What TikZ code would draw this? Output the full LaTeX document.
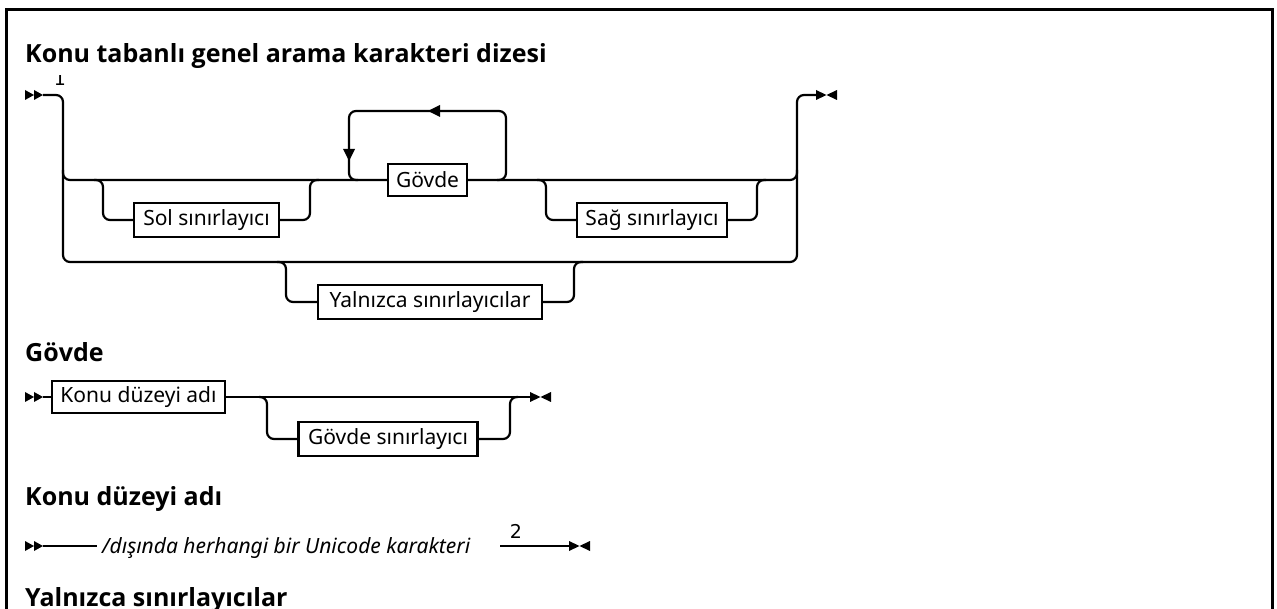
\documentclass[tikz,border=0pt]{standalone}
\usepackage{fontspec}
\setmainfont{Noto Sans}
\newfontfamily\notefont{DejaVu Sans}
% bold face for the headings
\IfFontExistsTF{Noto Sans Bold}
  {\newfontfamily\headfont{Noto Sans Bold}}
  {\IfFontExistsTF{Open Sans Bold}
     {\newfontfamily\headfont{Open Sans Bold}}
     {\newfontfamily\headfont{Noto Sans}[FakeBold=2]}}
\begin{document}
\begin{tikzpicture}[x=1pt,y=-1pt,
  rail/.style={line width=2.2pt, rounded corners=7pt},
  term/.style={draw, line width=2.2pt, minimum height=34pt, inner sep=0pt,
    font=\fontsize{21}{24}\selectfont},
  heading/.style={anchor=base west, inner sep=0pt,
    font=\headfont\fontsize{25}{29}\selectfont},
  footnum/.style={anchor=base, inner sep=0pt, font=\notefont\fontsize{19}{21}\selectfont},
  startmark/.pic={\fill (-18,-5) -- (-9,0) -- (-18,5) -- cycle;
                  \fill (-9,-5) -- (0,0) -- (-9,5) -- cycle;},
  endmark/.pic={\fill (0,-5) -- (10.5,0) -- (0,5) -- cycle;
                \fill (21,-5) -- (10.5,0) -- (21,5) -- cycle;}]
\useasboundingbox (0,0) rectangle (1277,609);
\clip (0,0) rectangle (1277,609);

% outer frame
\draw[line width=3pt] (6,640) -- (6,10) -- (1272,10) -- (1272,640);

% ---------- main syntax ----------
\node[heading] (t1) at (25,63) {Konu tabanlı genel arama karakteri dizesi};
\begin{scope}
  \clip (40,76) rectangle (80,100);
  \node[footnum] (fn1) at (60,86) {1};
\end{scope}

\coordinate (s1) at (43,95);
\coordinate (e1) at (816,95);
\pic at (s1) {startmark};
\pic at (e1) {endmark};

\node[term, minimum width=79pt, minimum height=32pt] (gov) at (427.5,180) {Gövde};
\node[term, minimum width=145pt] (sol) at (206.5,220) {Sol sınırlayıcı};
\node[term, minimum width=150pt] (sag) at (652,220) {Sağ sınırlayıcı};
\node[term, minimum width=224pt] (yal) at (430,302) {Yalnızca sınırlayıcılar};

% outer rails
\draw[rail] (s1) -- (63,95) -- (63,262) -- (797,262) -- (797,95) -- (e1);
% main line through the body
\draw[rail] (63,170) |- (gov.west);
\draw[rail] (gov.east) -| (797,170);
% optional left delimiter
\draw[rail] (94,180) -| (103,200) |- (sol.west);
\draw[rail] (sol.east) -| (310,200) |- (319,180);
% optional right delimiter
\draw[rail] (537,180) -| (546,200) |- (sag.west);
\draw[rail] (sag.east) -| (757,200) |- (766,180);
% delimiters only
\draw[rail] (277,262) -| (286,282) |- (yal.west);
\draw[rail] (yal.east) -| (574,282) |- (583,262);
% repeat loop over the body
\draw[rail] (497,180) -| (506,111) -| (349,180) -- (358,180);
\fill (428,111) -- (440,105) -- (440,117) -- cycle;
\fill (349,161) -- (343,149) -- (355,149) -- cycle;

% ---------- body ----------
\node[heading] (t2) at (25,362) {Gövde};
\coordinate (s2) at (43,397);
\coordinate (e2) at (530,397);
\pic at (s2) {startmark};
\pic at (e2) {endmark};
\node[term, minimum width=173pt, minimum height=32pt] (konu) at (138.5,397) {Konu düzeyi adı};
\node[term, minimum width=179pt] (gs) at (388,439) {Gövde sınırlayıcı};
\draw[rail] (s2) -- (konu.west);
\draw[rail] (konu.east) -- (e2);
\draw[rail] (259,397) -| (267,417) |- (gs.west);
\draw[rail] (gs.east) -| (510,417) |- (518,397);

% ---------- topic level name ----------
\node[heading] (t3) at (25,505) {Konu düzeyi adı};
\coordinate (s3) at (43,546);
\coordinate (e3) at (569,546);
\coordinate (l3) at (500,546);
\pic at (s3) {startmark};
\pic at (e3) {endmark};
\node[anchor=base west, inner xsep=5pt, inner ysep=0pt,
      font=\fontsize{21}{25}\selectfont\itshape] (anyc) at (97,553)
      {/dışında herhangi bir Unicode karakteri};
\draw[rail] (s3) -- (anyc.west |- s3);
\draw[rail] (l3) -- (e3);
\node[footnum] (fn2) at (516,538) {2};

% ---------- delimiters only ----------
\node[heading] (t4) at (25,606) {Yalnızca sınırlayıcılar};
\end{tikzpicture}
\end{document}
